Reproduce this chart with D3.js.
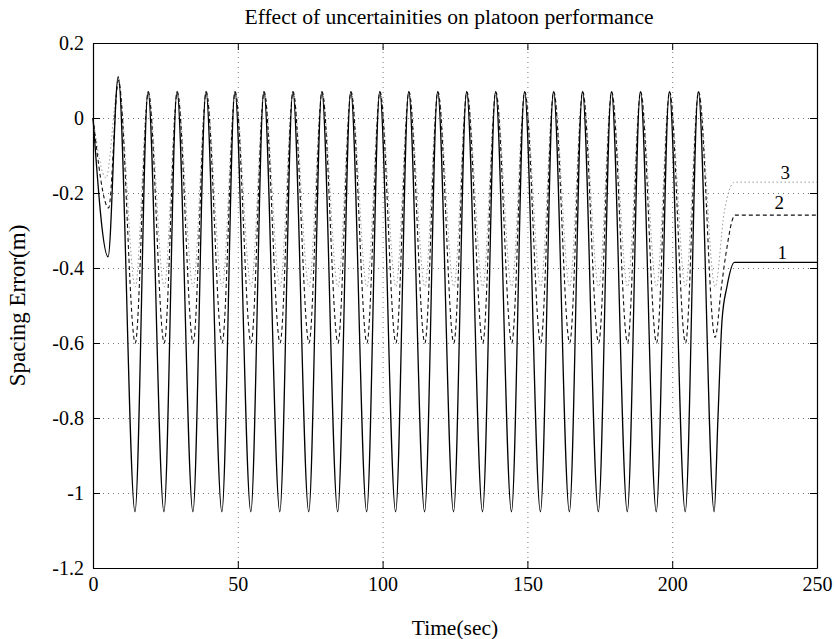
<!DOCTYPE html>
<html lang="en">
<head>
    <meta charset="UTF-8">
    <title>Effect of uncertainities on platoon performance</title>
    <script src="https://d3js.org/d3.v7.min.js"></script>
    <style>
        body {
            margin: 0;
            background: white;
        }
        svg, svg text {
            font-family: 'Liberation Serif', 'Times New Roman', serif;
        }
        .grid line {
            stroke: #777;
            stroke-dasharray: 1,4;
        }
        .grid .domain {
            display: none;
        }
    </style>
</head>
<body>
    <svg width="836" height="639"></svg>

    <script>
        // values (extrema and turning points of each run)
        const timeSolid = [0, 5.2, 8.7, 14.5, 19, 24.5, 29, 34.5, 39, 44.5, 49, 54.5, 59, 64.5, 69, 74.5, 79, 84.5, 89, 94.5, 99,
            104.5, 109, 114.5, 119, 124.5, 129, 134.5, 139, 144.5, 149, 154.5, 159, 164.5, 169, 174.5, 179, 184.5, 189, 194.5, 199,
            204.5, 209, 214.5, 215.8, 217.2, 218.9, 221.5, 250];
        const errSolid = [0, -0.37, 0.11, -1.05, 0.07, -1.05, 0.07, -1.05, 0.07, -1.05, 0.07, -1.05, 0.07, -1.05, 0.07, -1.05, 0.07, -1.05, 0.07, -1.05, 0.07,
            -1.05, 0.07, -1.05, 0.07, -1.05, 0.07, -1.05, 0.07, -1.05, 0.07, -1.05, 0.07, -1.05, 0.07, -1.05, 0.07, -1.05, 0.07, -1.05, 0.07,
            -1.05, 0.07, -1.05, -0.8, -0.54, -0.45, -0.385, -0.385];

        const timeDashed = [0, 5.4, 8.8, 14.6, 19.1, 24.6, 29.1, 34.6, 39.1, 44.6, 49.1, 54.6, 59.1, 64.6, 69.1, 74.6, 79.1, 84.6, 89.1, 94.6, 99.1,
            104.6, 109.1, 114.6, 119.1, 124.6, 129.1, 134.6, 139.1, 144.6, 149.1, 154.6, 159.1, 164.6, 169.1, 174.6, 179.1, 184.6, 189.1, 194.6, 199.1,
            204.6, 209.1, 214.8, 217.0, 218.6, 221.7, 250];
        const errDashed = [0, -0.24, 0.1, -0.6, 0.07, -0.6, 0.07, -0.6, 0.07, -0.6, 0.07, -0.6, 0.07, -0.6, 0.07, -0.6, 0.07, -0.6, 0.07, -0.6, 0.07,
            -0.6, 0.07, -0.6, 0.07, -0.6, 0.07, -0.6, 0.07, -0.6, 0.07, -0.6, 0.07, -0.6, 0.07, -0.6, 0.07, -0.6, 0.07, -0.6, 0.07,
            -0.6, 0.07, -0.585, -0.45, -0.36, -0.259, -0.259];

        const timeDotted = [0, 4.5, 8.8, 14.6, 19.1, 24.6, 29.1, 34.6, 39.1, 44.6, 49.1, 54.6, 59.1, 64.6, 69.1, 74.6, 79.1, 84.6, 89.1, 94.6, 99.1,
            104.6, 109.1, 114.6, 119.1, 124.6, 129.1, 134.6, 139.1, 144.6, 149.1, 154.6, 159.1, 164.6, 169.1, 174.6, 179.1, 184.6, 189.1, 194.6, 199.1,
            204.6, 209.1, 214.8, 218.0, 221.5, 250];
        const errDotted = [0, -0.16, 0.09, -0.45, 0.07, -0.45, 0.07, -0.45, 0.07, -0.45, 0.07, -0.45, 0.07, -0.45, 0.07, -0.45, 0.07, -0.45, 0.07, -0.45, 0.07,
            -0.45, 0.07, -0.45, 0.07, -0.45, 0.07, -0.45, 0.07, -0.45, 0.07, -0.45, 0.07, -0.45, 0.07, -0.45, 0.07, -0.45, 0.07, -0.45, 0.07,
            -0.45, 0.07, -0.45, -0.25, -0.171, -0.171];

        const xTicks = [0, 50, 100, 150, 200, 250];
        const yTicks = [0.2, 0, -0.2, -0.4, -0.6, -0.8, -1, -1.2];

        const curveLabels = ["1", "2", "3"];
        const curveLabelT = [238, 237, 239];
        const curveLabelY = [-0.376, -0.243, -0.163];

        const serif = "'Liberation Serif', 'Times New Roman', serif";

        const svg = d3.select("svg"),
            margin = {top: 43, right: 19, bottom: 71, left: 93},
            width = +svg.attr("width") - margin.left - margin.right,
            height = +svg.attr("height") - margin.top - margin.bottom,
            g = svg.append("g").attr("transform", `translate(${margin.left},${margin.top})`);

        const x = d3.scaleLinear().domain([0, 250]).range([0, width]);
        const y = d3.scaleLinear().domain([-1.2, 0.2]).range([height, 0]);

        // dotted grid
        g.append("g")
            .attr("class", "grid")
            .attr("transform", `translate(0,${height})`)
            .call(d3.axisBottom(x).tickValues(xTicks).tickSize(-height).tickFormat(""));
        g.append("g")
            .attr("class", "grid")
            .call(d3.axisLeft(y).tickValues(yTicks).tickSize(-width).tickFormat(""));

        const series = [
            {t: timeDotted, v: errDotted, stroke: "#999", width: 1, dash: "1.5,2.5"},
            {t: timeDashed, v: errDashed, stroke: "#111", width: 1.1, dash: "4,3"},
            {t: timeSolid, v: errSolid, stroke: "#000", width: 1.3, dash: null}
        ];

        const line = d3.line()
            .x(d => x(d[0]))
            .y(d => y(d[1]))
            .curve(d3.curveMonotoneX);

        series.forEach(s => {
            g.append("path")
                .datum(d3.zip(s.t, s.v))
                .attr("fill", "none")
                .attr("stroke", s.stroke)
                .attr("stroke-width", s.width)
                .attr("stroke-dasharray", s.dash)
                .attr("d", line);
        });

        // frame with inward ticks on every side
        const styleAxis = a => a
            .attr("font-family", serif)
            .attr("font-size", 20)
            .call(a => a.selectAll(".domain").attr("stroke", "#000").attr("stroke-width", 1.2))
            .call(a => a.selectAll(".tick line").attr("stroke", "#000"))
            .call(a => a.selectAll(".tick text")
                .attr("fill", "#000")
                .style("font-family", serif)
                .style("font-size", "20px"));

        g.append("g")
            .attr("transform", `translate(0,${height})`)
            .call(d3.axisBottom(x).tickValues(xTicks).tickSizeInner(-7).tickSizeOuter(0).tickPadding(9).tickFormat(d3.format("d")))
            .call(styleAxis);
        g.append("g")
            .call(d3.axisTop(x).tickValues(xTicks).tickSizeInner(-7).tickSizeOuter(0).tickFormat(""))
            .call(styleAxis);
        g.append("g")
            .call(d3.axisLeft(y).tickValues(yTicks).tickSizeInner(-7).tickSizeOuter(0).tickPadding(9).tickFormat(d => String(+d.toFixed(1))))
            .call(styleAxis);
        g.append("g")
            .attr("transform", `translate(${width},0)`)
            .call(d3.axisRight(y).tickValues(yTicks).tickSizeInner(-7).tickSizeOuter(0).tickFormat(""))
            .call(styleAxis);

        // curve numbers
        curveLabels.forEach((lab, i) => {
            g.append("text")
                .attr("x", x(curveLabelT[i]))
                .attr("y", y(curveLabelY[i]))
                .attr("text-anchor", "middle")
                .style("font-size", "19px")
                .text(lab);
        });

        svg.append("text")
            .attr("x", 449)
            .attr("y", 24)
            .attr("text-anchor", "middle")
            .style("font-size", "21.6px")
            .text("Effect of uncertainities on platoon performance");

        svg.append("text")
            .attr("x", margin.left + width / 2)
            .attr("y", 635)
            .attr("text-anchor", "middle")
            .style("font-size", "21.5px")
            .text("Time(sec)");

        svg.append("text")
            .attr("transform", `translate(25, ${margin.top + height / 2}) rotate(-90)`)
            .attr("text-anchor", "middle")
            .style("font-size", "23px")
            .text("Spacing Error(m)");
    </script>
</body>
</html>
